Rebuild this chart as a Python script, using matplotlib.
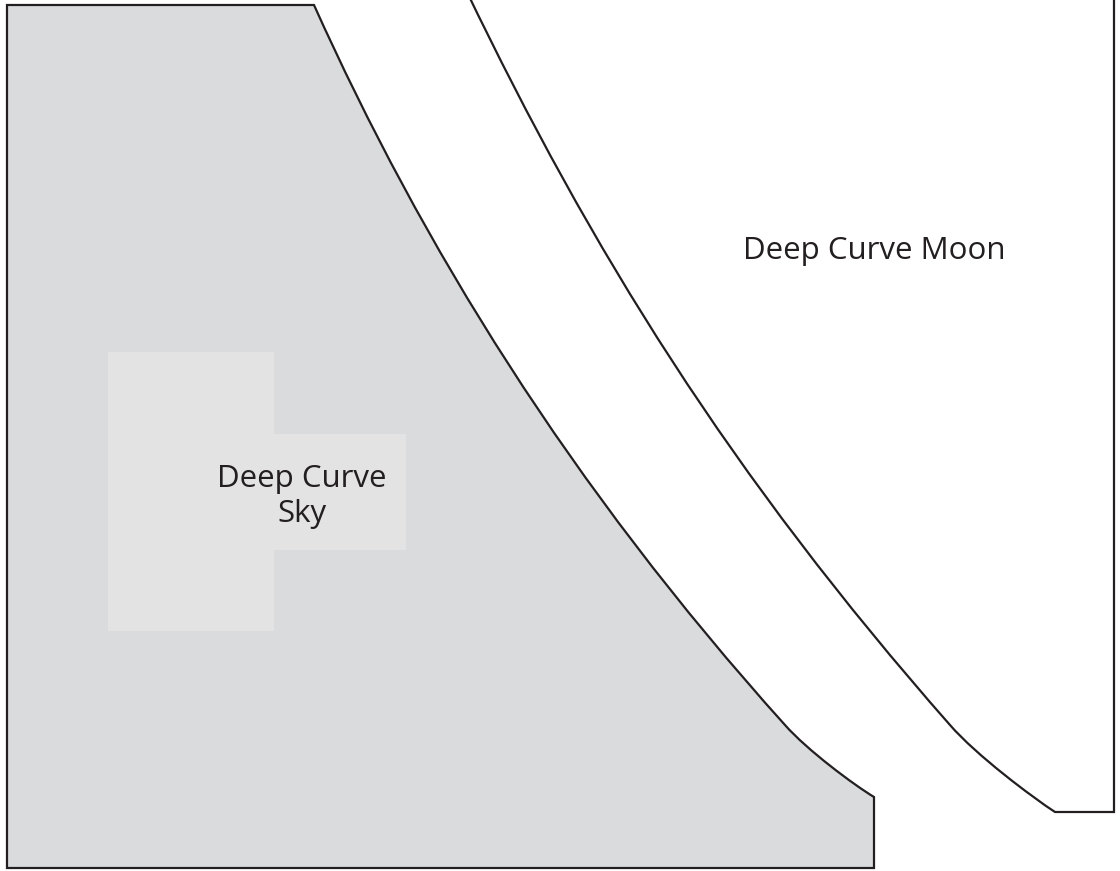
import matplotlib.pyplot as plt
from matplotlib.patches import PathPatch, Rectangle
from matplotlib.path import Path

# outline of each shape (pixel space, y down). curves are cubic beziers:
# each curve step = two control points + end point
sky_pts = [(7, 5), (314, 5),
           (422, 245), (569, 485), (785, 725),
           (807, 750), (854, 785), (874, 797),
           (874, 868), (7, 868), (7, 5)]
sky_codes = [Path.MOVETO, Path.LINETO,
             Path.CURVE4, Path.CURVE4, Path.CURVE4,
             Path.CURVE4, Path.CURVE4, Path.CURVE4,
             Path.LINETO, Path.LINETO, Path.CLOSEPOLY]

moon_pts = [(1114, -10), (466, -10),
            (591, 250), (730, 475), (950, 725),
            (976, 755), (1032, 797), (1055, 812),
            (1114, 812), (1114, -10)]
moon_codes = [Path.MOVETO, Path.LINETO,
              Path.CURVE4, Path.CURVE4, Path.CURVE4,
              Path.CURVE4, Path.CURVE4, Path.CURVE4,
              Path.LINETO, Path.CLOSEPOLY]

# lighter label boxes behind the sky label
label_boxes = [(108, 352, 166, 279), (274, 434, 132, 116)]

# label lines and their baselines
label_lines = ["Deep Curve", "Sky", "Deep Curve Moon"]
label_pos = [(302, 487), (302, 522), (874, 259)]

edge = '#231f20'

fig = plt.figure(figsize=(11.2, 8.71), dpi=100)
ax = fig.add_axes([0, 0, 1, 1])
ax.set_xlim(0, 1120)
ax.set_ylim(871, 0)
ax.axis('off')

ax.add_patch(PathPatch(Path(sky_pts, sky_codes), facecolor='#dadbdd',
                       edgecolor=edge, linewidth=1.6, joinstyle='miter'))
for (x, y, w, h) in label_boxes:
    ax.add_patch(Rectangle((x, y), w, h, facecolor='#e3e3e4', edgecolor='none'))
ax.add_patch(PathPatch(Path(moon_pts, moon_codes), facecolor='white',
                       edgecolor=edge, linewidth=1.6, joinstyle='miter'))

for txt, (x, y) in zip(label_lines, label_pos):
    ax.text(x, y, txt, ha='center', va='baseline', fontsize=22.5, color=edge,
            family='Open Sans')

fig.savefig('out.png', dpi=100)
